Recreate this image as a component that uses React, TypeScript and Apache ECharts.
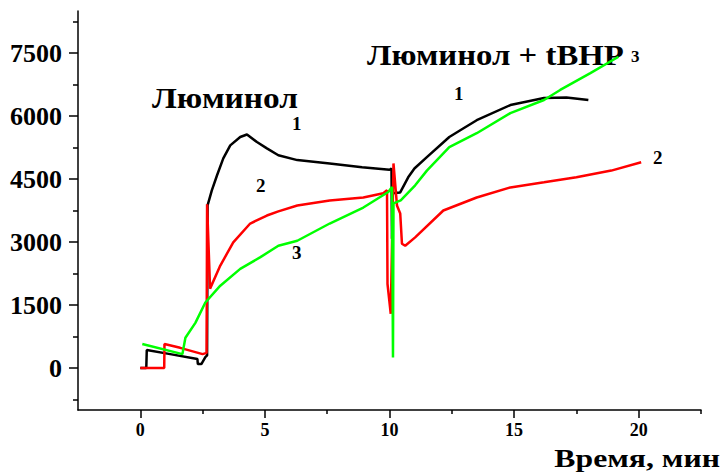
import React, { useEffect, useRef } from "react";
import * as echarts from "echarts";

// Curve 1 (black): [time, min ; signal]
const curve1: [number, number][] = [
  [0, 0], [0.24, 0], [0.26, 430], [1.2, 330], [2.29, 215], [2.31, 95], [2.45, 95],
  [2.61, 260], [2.68, 300], [2.7, 3870], [2.87, 4230], [3.08, 4590], [3.33, 4990],
  [3.61, 5300], [4.01, 5500], [4.28, 5560], [4.68, 5380], [5.08, 5230], [5.54, 5065],
  [6.3, 4950], [7.6, 4870], [8.9, 4780], [10.0, 4720], [10.08, 4750], [10.1, 3080],
  [10.12, 4160], [10.43, 4180], [10.75, 4540], [11.0, 4750], [11.5, 5020], [12.4, 5500],
  [12.84, 5660], [13.5, 5900], [14.85, 6260], [16.2, 6430], [17.1, 6440], [17.98, 6380],
];

// Curve 2 (red)
const curve2: [number, number][] = [
  [0, 0], [0.96, 0], [0.97, 570], [1.6, 480], [2.5, 330], [2.66, 360], [2.68, 3900],
  [2.8, 1890], [3.21, 2440], [3.73, 2990], [4.41, 3440], [5.08, 3630], [5.54, 3730],
  [6.3, 3870], [7.6, 3990], [8.95, 4060], [9.75, 4160], [9.9, 4230], [9.92, 2000],
  [10.05, 1290], [10.16, 4870], [10.3, 3870], [10.43, 3680], [10.5, 2960], [10.63, 2910],
  [11.03, 3110], [12.16, 3750], [13.5, 4060], [14.85, 4300], [16.2, 4420], [17.5, 4540],
  [18.9, 4700], [20.1, 4900],
];

// Curve 3 (green)
const curve3: [number, number][] = [
  [0.08, 570], [1.69, 330], [1.81, 720], [2.21, 1075], [2.61, 1560], [3.21, 1960],
  [4.01, 2360], [4.82, 2640], [5.54, 2910], [6.3, 3030], [7.6, 3440], [8.95, 3820],
  [9.95, 4190], [10.1, 4310], [10.14, 250], [10.16, 3920], [10.45, 3990], [11.03, 4350],
  [11.5, 4700], [12.4, 5260], [13.5, 5590], [14.85, 6070], [16.2, 6380], [16.85, 6620],
  [18.06, 7020], [19.19, 7410],
];

const xMajorTicks = [0, 5, 10, 15, 20];
const xMinorTicks = [2.5, 7.5, 12.5, 17.5, 22.5];
const yMajorTicks = [0, 1500, 3000, 4500, 6000, 7500];
const yMinorTicks = [-750, 750, 2250, 3750, 5250, 6750, 8250];

const titleLeft = "Люминол";
const titleRight = "Люминол + tBHP";
const xAxisName = "Время, мин";

const FONT = "Liberation Serif";

export default function App() {
  const ref = useRef<HTMLDivElement>(null);
  useEffect(() => {
    if (!ref.current) return;
    const chart = echarts.init(ref.current, undefined, { renderer: "svg" });
    const axisLineStyle = { color: "#000", width: 1.5 };
    const lineSeries = (data: [number, number][], color: string) => ({
      type: "line",
      data,
      xAxisIndex: 0,
      yAxisIndex: 0,
      showSymbol: false,
      symbol: "none",
      lineStyle: { color, width: 2.5 },
      silent: true,
    });
    const label = (text: string, x: number, y: number, size: number, sx = 1, align = "left") => ({
      type: "text",
      x,
      y,
      scaleX: sx,
      style: {
        text,
        fontFamily: FONT,
        fontWeight: "bold",
        fontSize: size,
        fill: "#000",
        align,
        verticalAlign: "middle",
      },
    });
    chart.setOption({
      animation: false,
      backgroundColor: "#fff",
      grid: { left: 78, right: 22, top: 11, bottom: 62, containLabel: false, outerBoundsMode: "none" },
      xAxis: [
        {
          type: "value",
          min: -2.5,
          max: 22.5,
          position: "bottom",
          splitLine: { show: false },
          axisLine: { show: true, onZero: false, lineStyle: axisLineStyle },
          axisTick: { show: true, length: 8, inside: false, customValues: xMajorTicks, lineStyle: axisLineStyle },
          axisLabel: {
            customValues: xMajorTicks,
            formatter: (v: number) => String(v),
            margin: 11,
            fontFamily: FONT,
            fontWeight: "bold",
            fontSize: 18,
            color: "#000",
          },
        },
        {
          type: "value",
          min: -2.5,
          max: 22.5,
          position: "bottom",
          offset: 0,
          splitLine: { show: false },
          axisLine: { show: false, onZero: false },
          axisTick: { show: true, length: 4, inside: false, customValues: xMinorTicks, lineStyle: axisLineStyle },
          axisLabel: { show: false },
        },
      ],
      yAxis: [
        {
          type: "value",
          min: -1000,
          max: 8500,
          position: "left",
          splitLine: { show: false },
          axisLine: { show: true, onZero: false, lineStyle: axisLineStyle },
          axisTick: { show: true, length: 9, inside: false, customValues: yMajorTicks, lineStyle: axisLineStyle },
          axisLabel: {
            customValues: yMajorTicks,
            formatter: (v: number) => String(v),
            margin: 16,
            fontFamily: FONT,
            fontWeight: "bold",
            fontSize: 26,
            color: "#000",
          },
        },
        {
          type: "value",
          min: -1000,
          max: 8500,
          position: "left",
          offset: 0,
          splitLine: { show: false },
          axisLine: { show: false, onZero: false },
          axisTick: { show: true, length: 5, inside: false, customValues: yMinorTicks, lineStyle: axisLineStyle },
          axisLabel: { show: false },
        },
      ],
      graphic: [
        label(titleLeft, 152, 98, 29, 1.15),
        label(titleRight, 367, 55, 29, 1.13),
        label("1", 292, 123, 19),
        label("2", 256, 185, 19),
        label("3", 292, 252, 19),
        label("1", 454, 93, 19),
        label("3", 631, 56, 17),
        label("2", 653, 157, 19),
        label(xAxisName, 720, 458, 26, 1.22, "right"),
      ],
      series: [lineSeries(curve1, "#000000"), lineSeries(curve2, "#ff0000"), lineSeries(curve3, "#00ff00")],
    });
    return () => chart.dispose();
  }, []);
  return <div ref={ref} style={{ position: "fixed", left: 0, top: 0, width: 723, height: 472 }} />;
}
